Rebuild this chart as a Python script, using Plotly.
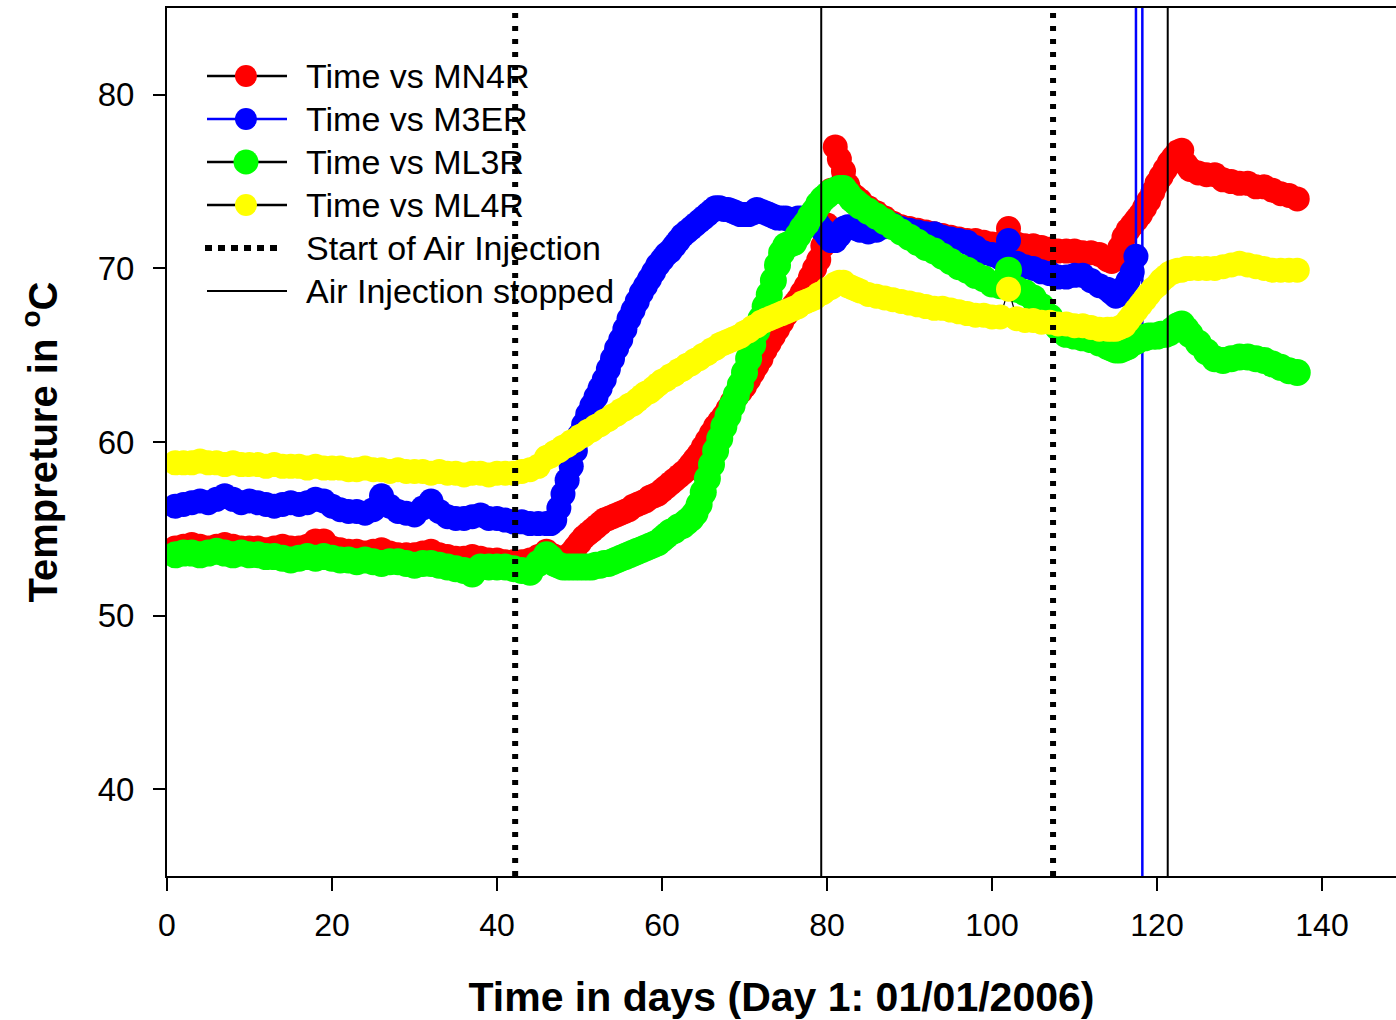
import plotly.graph_objects as go

# Measurement days (Day 1 = 01/01/2006); half-day readings during the
# heating ramps and after the second injection
days = (list(range(1, 47))
        + [d / 2 for d in range(93, 169)]
        + list(range(85, 115))
        + [d / 2 for d in range(229, 249)]
        + list(range(125, 138)))

# Temperature readings (deg C) per thermocouple
mn4r = [
    # days 1-46
    53.9, 54.0, 54.1, 54.0, 53.9, 54.0, 54.1, 54.0, 53.9, 53.9,
    53.9, 53.8, 53.9, 54.0, 53.9, 53.9, 54.0, 54.3, 54.3, 53.9,
    53.8, 53.7, 53.7, 53.6, 53.7, 53.8, 53.6, 53.5, 53.5, 53.5,
    53.6, 53.7, 53.5, 53.4, 53.3, 53.3, 53.4, 53.3, 53.2, 53.2,
    53.1, 53.1, 53.1, 53.2, 53.4, 53.7,
    # days 46.5-84
    53.5, 53.4, 53.3, 53.3, 53.4, 53.6, 53.9, 54.2,
    54.5, 54.7, 54.9, 55.1, 55.3, 55.5, 55.6, 55.7, 55.8, 55.9,
    56.0, 56.1, 56.3, 56.4, 56.5, 56.6, 56.8, 56.9, 57.0, 57.2,
    57.4, 57.6, 57.8, 58.0, 58.2, 58.4, 58.7, 59.0, 59.3, 59.7,
    60.1, 60.5, 60.9, 61.2, 61.5, 61.9, 62.3, 62.6, 62.9, 63.2,
    63.6, 64.0, 64.4, 64.8, 65.3, 65.7, 66.1, 66.5, 66.9, 67.3,
    67.6, 67.9, 68.2, 68.6, 69.0, 69.5, 70.0, 70.5, 71.3, 72.5,
    74.5, 77.0, 76.3, 75.6, 74.8, 74.3, 74.1, 73.9,
    # days 85-114
    73.5, 73.2, 72.9, 72.6, 72.4, 72.3, 72.2, 72.1, 72.0, 71.9,
    71.8, 71.7, 71.6, 71.6, 71.5, 71.4, 71.4, 72.3, 71.4, 71.3,
    71.3, 71.2, 71.1, 71.0, 71.0, 71.0, 70.9, 70.9, 70.8, 70.5,
    # days 114.5-124
    70.4, 70.6, 71.2, 71.8, 72.2, 72.5, 72.8, 73.1, 73.5, 73.9,
    74.4, 74.9, 75.3, 75.7, 76.1, 76.4, 76.7, 76.8, 76.0, 75.7,
    # days 125-137
    75.5, 75.4, 75.4, 75.1, 75.0, 74.9, 74.9, 74.7, 74.7, 74.5,
    74.3, 74.2, 74.0,
]

m3er = [
    # days 1-46
    56.3, 56.4, 56.5, 56.6, 56.5, 56.7, 56.9, 56.7, 56.5, 56.6,
    56.5, 56.4, 56.3, 56.4, 56.5, 56.4, 56.5, 56.7, 56.6, 56.3,
    56.1, 56.0, 56.0, 55.9, 56.1, 56.9, 56.3, 56.0, 55.9, 55.8,
    56.2, 56.6, 56.0, 55.7, 55.6, 55.6, 55.7, 55.8, 55.6, 55.6,
    55.5, 55.4, 55.4, 55.3, 55.3, 55.3,
    # days 46.5-84
    55.3, 55.5, 56.2, 57.0, 57.8, 58.6, 59.5, 60.4,
    61.0, 61.6, 62.1, 62.6, 63.1, 63.6, 64.2, 64.8, 65.4, 65.9,
    66.5, 67.1, 67.6, 68.1, 68.6, 69.0, 69.4, 69.8, 70.2, 70.5,
    70.8, 71.0, 71.3, 71.6, 71.9, 72.1, 72.3, 72.5, 72.7, 72.9,
    73.1, 73.3, 73.5, 73.5, 73.4, 73.4, 73.3, 73.2, 73.1, 73.1,
    73.1, 73.2, 73.4, 73.3, 73.2, 73.1, 73.0, 72.9, 72.9, 72.9,
    72.8, 72.8, 72.9, 72.9, 72.8, 72.8, 72.7, 72.5, 72.2, 71.9,
    71.6, 71.6, 71.9, 72.3, 72.4, 72.4, 72.3, 72.2,
    # days 85-114
    72.1, 72.2, 72.4, 72.5, 72.3, 72.2, 72.1, 72.0, 72.0, 71.8,
    71.7, 71.6, 71.5, 71.2, 70.9, 70.8, 70.6, 71.6, 70.3, 70.1,
    70.0, 69.8, 69.7, 69.5, 69.5, 69.6, 69.6, 69.3, 69.0, 68.8,
    # days 114.5-117
    68.6, 68.4, 68.5, 68.9, 69.3, 69.8,
]
# last M3ER readings: sensor failure produces out-of-range values
m3er_tail_days = [117.45, 117.5, 118.2, 118.25]
m3er_tail = [70.7, 999.0, 999.0, -999.0]

ml3r = [
    # days 1-46
    53.5, 53.6, 53.6, 53.5, 53.6, 53.7, 53.6, 53.5, 53.6, 53.5,
    53.5, 53.4, 53.4, 53.3, 53.2, 53.3, 53.4, 53.3, 53.4, 53.3,
    53.2, 53.2, 53.1, 53.2, 53.1, 53.0, 53.1, 53.1, 53.0, 52.9,
    53.0, 53.0, 52.9, 52.8, 52.7, 52.6, 52.4, 52.8, 52.8, 52.8,
    52.8, 52.7, 52.6, 52.5, 53.0, 53.5,
    # days 46.5-84
    53.3, 53.0, 52.9, 52.8, 52.8, 52.8, 52.8, 52.8,
    52.8, 52.8, 52.8, 52.9, 52.9, 53.0, 53.0, 53.1, 53.2, 53.3,
    53.4, 53.5, 53.6, 53.7, 53.8, 53.9, 54.0, 54.1, 54.2, 54.4,
    54.6, 54.8, 54.9, 55.1, 55.2, 55.4, 55.6, 55.9, 56.4, 57.1,
    57.9, 58.7, 59.5, 60.2, 60.9, 61.5, 62.1, 62.7, 63.3, 64.0,
    64.8, 65.6, 66.4, 67.1, 67.8, 68.5, 69.3, 70.2, 70.9, 71.3,
    71.4, 71.5, 71.9, 72.3, 72.6, 73.0, 73.3, 73.7, 74.0, 74.2,
    74.4, 74.5, 74.6, 74.6, 74.3, 74.0, 73.8, 73.6,
    # days 85-114
    73.3, 73.0, 72.7, 72.4, 72.1, 71.8, 71.5, 71.2, 71.0, 70.7,
    70.4, 70.1, 69.9, 69.6, 69.4, 69.1, 69.0, 69.9, 68.8, 68.6,
    68.3, 67.8, 67.2, 66.6, 66.2, 66.1, 66.0, 65.9, 65.7, 65.5,
    # days 114.5-124
    65.4, 65.3, 65.3, 65.4, 65.5, 65.7, 65.8, 66.0, 66.0, 66.1,
    66.1, 66.1, 66.2, 66.2, 66.3, 66.5, 66.7, 66.8, 66.5, 66.2,
    # days 125-137
    65.7, 65.2, 64.8, 64.7, 64.8, 64.9, 64.9, 64.8, 64.7, 64.5,
    64.3, 64.1, 64.0,
]

ml4r = [
    # days 1-46
    58.8, 58.8, 58.8, 58.9, 58.8, 58.8, 58.7, 58.8, 58.7, 58.7,
    58.7, 58.6, 58.7, 58.6, 58.6, 58.6, 58.5, 58.6, 58.5, 58.5,
    58.5, 58.4, 58.4, 58.5, 58.4, 58.4, 58.3, 58.4, 58.3, 58.3,
    58.3, 58.2, 58.3, 58.2, 58.2, 58.1, 58.2, 58.2, 58.1, 58.2,
    58.2, 58.2, 58.3, 58.4, 58.6, 59.1,
    # days 46.5-84
    59.2, 59.4, 59.5, 59.7, 59.8, 60.0, 60.1, 60.3,
    60.4, 60.6, 60.7, 60.9, 61.0, 61.2, 61.3, 61.5, 61.6, 61.8,
    61.9, 62.1, 62.2, 62.4, 62.6, 62.8, 62.9, 63.1, 63.3, 63.5,
    63.6, 63.8, 63.9, 64.1, 64.2, 64.4, 64.5, 64.7, 64.8, 65.0,
    65.1, 65.3, 65.4, 65.6, 65.7, 65.8, 65.9, 66.0, 66.1, 66.3,
    66.4, 66.6, 66.7, 66.9, 67.0, 67.1, 67.2, 67.3, 67.4, 67.5,
    67.6, 67.7, 67.8, 68.0, 68.1, 68.2, 68.3, 68.5, 68.6, 68.8,
    68.9, 69.1, 69.2, 69.2, 69.0, 68.9, 68.8, 68.7,
    # days 85-114
    68.5, 68.4, 68.3, 68.2, 68.1, 68.0, 67.9, 67.8, 67.7, 67.7,
    67.6, 67.5, 67.4, 67.3, 67.3, 67.2, 67.2, 68.8, 67.1, 67.0,
    67.0, 66.9, 66.9, 66.8, 66.8, 66.7, 66.7, 66.6, 66.5, 66.5,
    # days 114.5-124
    66.5, 66.5, 66.6, 66.7, 67.0, 67.3, 67.6, 67.9, 68.2, 68.5,
    68.8, 69.0, 69.3, 69.5, 69.7, 69.8, 69.9, 69.9, 70.0, 70.0,
    # days 125-137
    70.0, 70.0, 70.0, 70.1, 70.2, 70.3, 70.2, 70.1, 70.0, 69.9,
    69.9, 69.9, 69.9,
]

# Air injection events (day)
air_start = [42.2, 107.4]
air_stop = [79.3, 121.3]

series_names = ["Time vs MN4R", "Time vs M3ER", "Time vs ML3R", "Time vs ML4R"]
series_colors = ["#ff0000", "#0000ff", "#00ff00", "#ffff00"]
line_colors = ["black", "#0000ff", "black", "black"]
line_widths = [1.2, 2.5, 1.2, 1.2]
marker_sizes = [25, 25, 27, 25]
legend_marker_sizes = [22, 22, 25, 22]

FONT = "Liberation Sans, Arial, sans-serif"
W, H = 1396, 1020
ML, MR, MT, MB = 167, 0, 8, 144
PW, PH = W - ML - MR, H - MT - MB

m3er_days = days[:len(m3er)] + m3er_tail_days
xs = [days, m3er_days, days, days]
ys = [mn4r, m3er + m3er_tail, ml3r, ml4r]

fig = go.Figure()
for name, x, y, mc, lc, lw, ms in zip(series_names, xs, ys, series_colors,
                                       line_colors, line_widths, marker_sizes):
    fig.add_trace(go.Scatter(
        x=x, y=y, name=name, mode="lines+markers",
        line=dict(color=lc, width=lw),
        marker=dict(color=mc, size=ms, line=dict(width=0)),
        showlegend=False,
    ))

shapes = []
for d in air_start:
    shapes.append(dict(type="line", xref="x", yref="paper", x0=d, x1=d,
                       y0=0, y1=1, layer="above",
                       line=dict(color="black", width=6, dash="5px,8px")))
for d in air_stop:
    shapes.append(dict(type="line", xref="x", yref="paper", x0=d, x1=d,
                       y0=0, y1=1, layer="above",
                       line=dict(color="black", width=2)))


def px_x(p):
    return (p - ML) / PW


def px_y(p):
    return (MT + PH - p) / PH


# legend drawn inside the plot area
legend_rows = [76, 119, 162, 205, 248, 291]
legend_labels = series_names + ["Start of Air Injection", "Air Injection stopped"]
annotations = []
for i, (row, label) in enumerate(zip(legend_rows, legend_labels)):
    yy = px_y(row)
    if i < 4:
        shapes.append(dict(type="line", xref="paper", yref="paper",
                           x0=px_x(207), x1=px_x(287), y0=yy, y1=yy,
                           layer="above",
                           line=dict(color=line_colors[i], width=2.5)))
        r = legend_marker_sizes[i] / 2
        shapes.append(dict(type="circle", xref="paper", yref="paper",
                           xsizemode="pixel", ysizemode="pixel",
                           xanchor=px_x(246), yanchor=yy,
                           x0=-r, x1=r, y0=-r, y1=r, layer="above",
                           fillcolor=series_colors[i], line=dict(width=0)))
    elif i == 4:
        shapes.append(dict(type="line", xref="paper", yref="paper",
                           x0=px_x(205), x1=px_x(282), y0=yy, y1=yy,
                           layer="above",
                           line=dict(color="black", width=6, dash="7px,6px")))
    else:
        shapes.append(dict(type="line", xref="paper", yref="paper",
                           x0=px_x(207), x1=px_x(287), y0=yy, y1=yy,
                           layer="above",
                           line=dict(color="black", width=2)))
    annotations.append(dict(xref="paper", yref="paper", x=px_x(304), y=yy,
                            xanchor="left", yanchor="middle", showarrow=False,
                            text=label,
                            font=dict(family=FONT, size=34, color="black")))

fig.update_layout(
    width=W, height=H,
    margin=dict(l=ML, r=MR, t=MT, b=MB, pad=0),
    paper_bgcolor="white", plot_bgcolor="white",
    showlegend=False,
    shapes=shapes,
    annotations=annotations,
    font=dict(family=FONT, color="black"),
    xaxis=dict(
        range=[0, PW / 8.25], tickvals=[0, 20, 40, 60, 80, 100, 120, 140],
        showgrid=False, zeroline=False,
        showline=True, linecolor="black", linewidth=2, mirror=True,
        ticks="outside", ticklen=13, tickwidth=2, tickcolor="black",
        ticklabelstandoff=7,
        tickfont=dict(family=FONT, size=32, color="black"),
        title=dict(text="<b>Time in days (Day 1: 01/01/2006)</b>",
                   font=dict(family=FONT, size=41, color="black"),
                   standoff=40),
    ),
    yaxis=dict(
        range=[35, 85], tickvals=[40, 50, 60, 70, 80],
        showgrid=False, zeroline=False,
        showline=True, linecolor="black", linewidth=2, mirror=False,
        ticks="outside", ticklen=12, tickwidth=2, tickcolor="black",
        ticklabelstandoff=12,
        tickfont=dict(family=FONT, size=33, color="black"),
        title=dict(text="<b>Tempreture in <sup>o</sup>C</b>",
                   font=dict(family=FONT, size=40, color="black"),
                   standoff=28),
    ),
)

fig.write_html("out.html")
